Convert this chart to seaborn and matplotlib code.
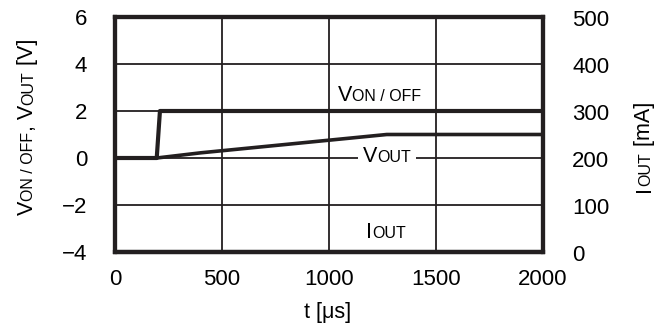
import matplotlib
matplotlib.use("Agg")
import matplotlib.pyplot as plt
import numpy as np
import pandas as pd
import seaborn as sns
from matplotlib.transforms import IdentityTransform, ScaledTranslation
from matplotlib.patches import Rectangle

# --- data -------------------------------------------------------------
t_onoff = [0, 195, 210, 2000]          # µs
v_onoff = [0.0, 0.0, 2.0, 2.0]         # V
t_vout = [0, 195, 400, 1270, 2000]     # µs
v_out = [0.0, 0.0, 0.22, 1.0, 1.0]     # V
t_iout = [0, 2000]                     # µs
i_out = [0.0, 0.0]                     # mA

x_ticks = [0, 500, 1000, 1500, 2000]
v_ticks = [-4, -2, 0, 2, 4, 6]
i_ticks = [0, 100, 200, 300, 400, 500]

INK = "#231f20"
BIG = 15.5
SMALL = 11.5
TICK = 16

sns.set_theme(style="white")
plt.rcParams["font.family"] = ["Liberation Sans", "DejaVu Sans"]
plt.rcParams["axes.unicode_minus"] = True

W, H = 672, 329
fig = plt.figure(figsize=(W / 100, H / 100), dpi=100)
ax = fig.add_axes([115 / W, (H - 252) / H, 428 / W, 235 / H])
ax2 = ax.twinx()

df_on = pd.DataFrame({"t": t_onoff, "v": v_onoff})
df_out = pd.DataFrame({"t": t_vout, "v": v_out})
df_i = pd.DataFrame({"t": t_iout, "i": i_out})

sns.lineplot(data=df_on, x="t", y="v", ax=ax, color=INK, lw=3.0,
             estimator=None, sort=False, zorder=4)
sns.lineplot(data=df_out, x="t", y="v", ax=ax, color=INK, lw=2.6,
             estimator=None, sort=False, zorder=4)
sns.lineplot(data=df_i, x="t", y="i", ax=ax2, color=INK, lw=3.0,
             estimator=None, sort=False, clip_on=False)

ax.set_xlim(0, 2000)
ax.set_ylim(-4, 6)
ax2.set_ylim(0, 500)
ax.set_xticks(x_ticks)
ax.set_yticks(v_ticks)
ax2.set_yticks(i_ticks)
ax.set_xlabel("")
ax.set_ylabel("")
ax2.set_ylabel("")

ax.grid(True, color=INK, lw=1.3)
ax2.grid(False)
for a in (ax, ax2):
    for s in a.spines.values():
        s.set_color(INK)
        s.set_linewidth(3.0)
    a.tick_params(length=0, labelsize=TICK, colors="black")
ax.tick_params(axis="y", pad=20)
ax.tick_params(axis="x", pad=12)
ax2.tick_params(axis="y", pad=21)
# right-hand current scale sits a touch below its gridlines
drop = ScaledTranslation(0, -2.5 / 72, fig.dpi_scale_trans)
for lbl in ax2.get_yticklabels():
    lbl.set_va("center")
    lbl.set_transform(lbl.get_transform() + drop)


def caps_label(x, y, parts, rotation=0, ha="left", fill=None):
    """Place a run of mixed-size text segments along a shared baseline
    (display-pixel coordinates, y measured upward)."""
    renderer = fig.canvas.get_renderer()
    placed, advance = [], 0.0
    for s, fs in parts:
        t = fig.text(0, 0, s, fontsize=fs, rotation=rotation,
                     rotation_mode="anchor", ha="left", va="baseline",
                     color="black", transform=IdentityTransform(), zorder=5)
        ext = t.get_window_extent(renderer)
        placed.append((t, advance))
        advance += ext.width if rotation == 0 else ext.height
    shift = {"left": 0.0, "center": advance / 2, "right": advance}[ha]
    for t, off in placed:
        d = off - shift
        t.set_position((x + d, y) if rotation == 0 else (x, y + d))
    if fill is not None:
        pad = 5
        fig.add_artist(Rectangle((x - shift - pad, y - 3), advance + 2 * pad, 20,
                                 transform=IdentityTransform(), facecolor=fill,
                                 edgecolor="none", zorder=4))
    return placed


fig.canvas.draw()

# series labels inside the plot
caps_label(338, H - 101, [("V", BIG), ("ON / OFF", SMALL)])
caps_label(363, H - 162, [("V", BIG), ("OUT", SMALL)], fill="white")
caps_label(366, H - 238, [("I", BIG), ("OUT", SMALL)])

# axis titles
caps_label(33, H - 127, [("V", BIG), ("ON / OFF", SMALL), (", V", BIG),
                         ("OUT", SMALL), (" [V]", BIG)],
           rotation=90, ha="center")
caps_label(650, H - 147, [("I", BIG), ("OUT", SMALL), (" [mA]", BIG)],
           rotation=90, ha="center")
caps_label(328, H - 318, [("t [μs]", BIG)], ha="center")

fig.savefig("out.png", dpi=100, facecolor="white")
